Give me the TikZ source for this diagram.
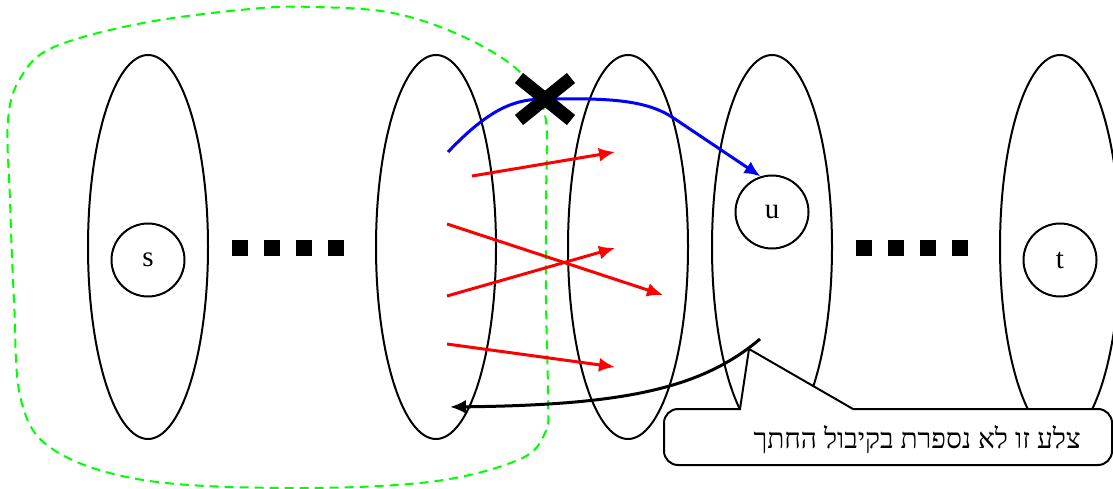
\documentclass[tikz,border=0pt]{standalone}
\usepackage{fontspec}
\setmainfont{Liberation Serif}
\newfontfamily\hebfont[Script=Hebrew]{Liberation Serif}
\TeXXeTstate=1
\usepackage{xcolor}
\usepackage{tikz}
\usetikzlibrary{shapes,arrows.meta,positioning,calc}

\begin{document}
\begin{tikzpicture}[x=1pt, y=-1pt, line width=2pt, >={Latex[length=16pt,width=14pt]},
    layer/.style={draw, ellipse, minimum width=120pt, minimum height=384pt, inner sep=0pt},
    vertex/.style={draw, circle, minimum size=73pt, inner sep=0pt, font=\fontsize{29}{33}\selectfont},
    flow/.style={->, red, line width=3pt},
    cutline/.style={green, dash pattern=on 9pt off 6pt, line width=2pt}]
    \clip (0,0) rectangle (1113,489);

    \draw[cutline] plot[smooth cycle, tension=0.6] coordinates {(545,115) (520,72) (464,37) (393,13) (314,7) (250,9) (143,23) (54,47) (21,77) (8,120) (10,200) (14,300) (21,400) (54,450) (143,480) (286,488) (429,482) (518,460) (545,433) (548,400) (546,300) (546,200)};

    \node[layer] (L1) at (148,247) {};
    \node[layer] (L2) at (436,247) {};
    \node[layer] (L3) at (628,247) {};
    \node[layer] (L4) at (772,247) {};
    \node[layer] (L5) at (1060,247) {};

    \node[vertex] (s) at (148,260) {s};
    \node[vertex] (u) at (772,212) {u};
    \node[vertex] (t) at (1060,260) {t};

    \foreach \x in {232,264,296,328,856,888,920,952}
        \fill (\x,240) rectangle ++(16,16);

    \coordinate (r1a) at (472,176);
    \coordinate (r1b) at (615,152);
    \coordinate (r2a) at (447,224);
    \coordinate (r2b) at (663,295);
    \coordinate (r3a) at (447,296);
    \coordinate (r3b) at (615,248);
    \coordinate (r4a) at (447,344);
    \coordinate (r4b) at (615,367);
    \draw[flow] (r1a) -- (r1b);
    \draw[flow] (r2a) -- (r2b);
    \draw[flow] (r3a) -- (r3b);
    \draw[flow] (r4a) -- (r4b);

    \coordinate (bstart) at (448,152);
    \draw[->, blue, line width=3pt] (bstart) .. controls (490,108) and (515,99) .. (545,99)
        .. controls (610,98) and (645,100) .. (672,117) -- (u.108);

    \draw[line width=13pt] (519,78) -- (571,120) (519,120) -- (571,78);

    \draw[fill=white] (853,409) {[rounded corners=14pt] -- (1112,409) -- (1112,465) -- (664,465) -- (664,409)} -- (740,409) -- (749,349) -- cycle;
    \node[anchor=east, font=\fontsize{28}{32}\selectfont\hebfont] (note) at (1085,440) {\beginR צלע זו לא נספרת בקיבול החתך\endR};

    \coordinate (kstart) at (760,339);
    \coordinate (kend) at (450,407);
    \draw[->, line width=3pt] (kstart) .. controls (700,390) and (620,405) .. (kend);
\end{tikzpicture}
\end{document}
